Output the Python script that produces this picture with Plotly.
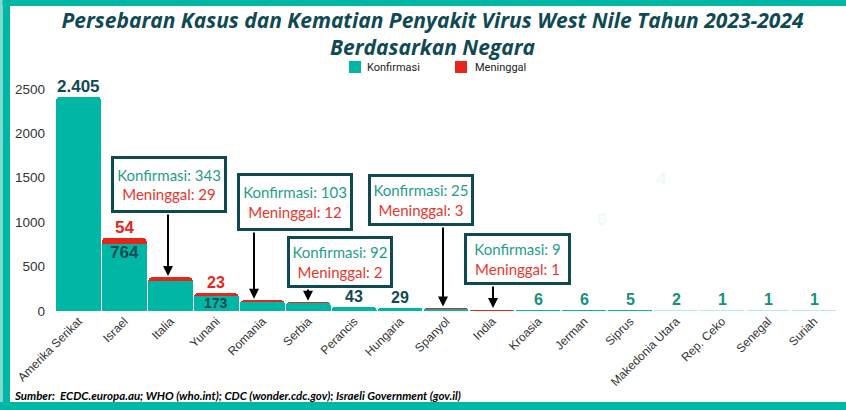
import plotly.graph_objects as go

# ---------------- data ----------------
countries = ["Amerika Serikat", "Israel", "Italia", "Yunani", "Romania", "Serbia",
             "Perancis", "Hungaria", "Spanyol", "India", "Kroasia", "Jerman",
             "Siprus", "Makedonia Utara", "Rep. Ceko", "Senegal", "Suriah"]
konfirmasi = [2405, 764, 343, 173, 103, 92, 43, 29, 25, 9, 6, 6, 5, 2, 1, 1, 1]
meninggal = [0, 54, 29, 23, 12, 2, 0, 0, 3, 1, 0, 0, 0, 0, 0, 0, 0]
y_ticks = [0, 500, 1000, 1500, 2000, 2500]
series_names = ["Konfirmasi", "Meninggal"]

title_text = ("Persebaran Kasus dan Kematian Penyakit Virus West Nile Tahun 2023-2024"
              "<br>Berdasarkan Negara")
source_text = ("Sumber:  ECDC.europa.au; WHO (who.int); CDC (wonder.cdc.gov); "
               "Israeli Government (gov.il)")

# which categories get which kind of label
above_dark = ["Amerika Serikat", "Perancis", "Hungaria"]
above_green = ["Kroasia", "Jerman", "Siprus", "Makedonia Utara", "Rep. Ceko", "Senegal", "Suriah"]
inside_lbl = ["Israel", "Yunani"]
callouts = ["Italia", "Romania", "Serbia", "Spanyol", "India"]
light_bars = ["Makedonia Utara", "Rep. Ceko", "Senegal", "Suriah"]

# ---------------- style ----------------
TEAL = "#00b7a6"
TEAL_LIGHT = "#b3ebe5"
RED = "#e8251b"
NAVY = "#0f4a53"
GREEN = "#13907a"
BOX_GREEN = "#1f9e89"
BOX_RED = "#e8362d"

W, H = 846, 410
PL, PR, PT, PB = 55, 837, 71, 311
YMAX = 2700


def fx(p):
    return (p - PL) / (PR - PL)


def fy(p):
    return (PB - p) / (PB - PT)


def ypx(v):
    return PB - v * (PB - PT) / YMAX


bar_colors = [TEAL_LIGHT if c in light_bars else TEAL for c in countries]
red_lines = [RED if m > 0 else "rgba(0,0,0,0)" for m in meninggal]

fig = go.Figure()
fig.add_trace(go.Bar(
    x=countries, y=konfirmasi, name=series_names[0],
    marker=dict(color=bar_colors, line=dict(color=bar_colors, width=1.2)),
    hoverinfo="x+y",
))
fig.add_trace(go.Bar(
    x=countries, y=meninggal, name=series_names[1],
    marker=dict(color=RED, line=dict(color=red_lines, width=1)),
    hoverinfo="x+y",
))

annotations = []
shapes = []
num_font = "Liberation Sans"


def fmt(v):
    return f"{v:,}".replace(",", ".")


for i, c in enumerate(countries):
    total = konfirmasi[i] + meninggal[i]
    if c in above_dark or c in above_green:
        big = c == "Amerika Serikat"
        annotations.append(dict(
            x=c, y=total, xref="x", yref="y", text=fmt(konfirmasi[i]), showarrow=False,
            yanchor="middle", yshift=11,
            font=dict(family=num_font, size=17 if big else 16,
                      color=NAVY if c in above_dark else GREEN, weight="bold"),
        ))
    if c in inside_lbl:
        annotations.append(dict(
            x=c, y=total, xref="x", yref="y", text=str(meninggal[i]), showarrow=False,
            yanchor="middle", yshift=11,
            font=dict(family=num_font, size=17 if c == "Israel" else 16, color=RED, weight="bold"),
        ))
        annotations.append(dict(
            x=c, y=konfirmasi[i], xref="x", yref="y", text=str(konfirmasi[i]), showarrow=False,
            yanchor="middle", yshift=-9 if c == "Israel" else -7,
            font=dict(family=num_font, size=17 if c == "Israel" else 14, color=NAVY, weight="bold"),
        ))

# call-out boxes: centre (px), size (px), arrow x (px)
box_geom = {
    "Italia": (169, 184.5, 110, 51, 168),
    "Romania": (295, 202, 110, 52, 254),
    "Serbia": (340, 262, 100, 46, 308),
    "Spanyol": (421, 200, 100, 46, 443),
    "India": (517.5, 259, 101, 46, 493),
}
for c in callouts:
    i = countries.index(c)
    cx, cy, bw, bh, ax_ = box_geom[c]
    txt = (f"<span style='color:{BOX_GREEN}'>Konfirmasi: {konfirmasi[i]}</span><br>"
           f"<span style='color:{BOX_RED}'>Meninggal: {meninggal[i]}</span>")
    annotations.append(dict(
        x=fx(cx), y=fy(cy), xref="paper", yref="paper", text=txt, showarrow=False,
        xanchor="center", yanchor="middle", width=bw, height=bh,
        bgcolor="white", bordercolor=NAVY, borderwidth=3, borderpad=0,
        font=dict(family="Lato", size=15), align="center",
    ))
    total = konfirmasi[i] + meninggal[i]
    box_bottom = cy + bh / 2 + 3
    annotations.append(dict(
        x=fx(ax_), y=total, xref="paper", yref="y", text="", showarrow=True,
        ax=0, ay=box_bottom - ypx(total), axref="pixel", ayref="pixel",
        arrowhead=2, arrowsize=1, arrowwidth=2, arrowcolor="black", standoff=2,
    ))

# faint leftover labels in the background
annotations.append(dict(x=fx(669), y=fy(178), xref="paper", yref="paper", text="4",
                        showarrow=False, font=dict(family=num_font, size=17, color="#eefaf9", weight="bold")))
annotations.append(dict(x=fx(608), y=fy(231), xref="paper", yref="paper", text="6",
                        showarrow=False, font=dict(family=num_font, size=17, color="#eefaf9", weight="bold")))

# legend (drawn compactly to match the reference spacing)
legend_items = [(series_names[0], TEAL, 349, 365), (series_names[1], RED, 455, 473)]
for name, col, sq_x, tx_x in legend_items:
    shapes.append(dict(type="rect", xref="paper", yref="paper",
                       x0=fx(sq_x), x1=fx(sq_x + 12), y0=fy(61), y1=fy(73),
                       fillcolor=col, line_width=0, layer="above"))
    annotations.append(dict(x=fx(tx_x), y=fy(67), xref="paper", yref="paper", text=name,
                            showarrow=False, xanchor="left", yanchor="middle",
                            font=dict(family="Roboto", size=11, color="#222")))

# source
annotations.append(dict(
    x=fx(12), y=fy(395), xref="paper", yref="paper", text=source_text, showarrow=False,
    xanchor="left", yanchor="middle",
    font=dict(family="Lato", size=11.5, color="black", style="italic", weight="bold"),
))

shapes += [
    dict(type="rect", xref="paper", yref="paper", x0=fx(0), x1=fx(W), y0=fy(0), y1=fy(6),
         fillcolor=TEAL, line_width=0, layer="above"),
    dict(type="rect", xref="paper", yref="paper", x0=fx(2.5), x1=fx(10), y0=fy(0), y1=fy(H),
         fillcolor=TEAL, line_width=0, layer="above"),
    dict(type="rect", xref="paper", yref="paper", x0=fx(0), x1=fx(2.5), y0=fy(0), y1=fy(H),
         fillcolor="#7fd9cf", line_width=0, layer="above"),
    dict(type="rect", xref="paper", yref="paper", x0=fx(0), x1=fx(W), y0=fy(402), y1=fy(H),
         fillcolor=TEAL, line_width=0, layer="above"),
]

fig.update_layout(
    width=W, height=H,
    margin=dict(l=PL, r=W - PR, t=PT, b=H - PB, autoexpand=False),
    paper_bgcolor="white", plot_bgcolor="white",
    barmode="stack", bargap=0.06, barcornerradius=3,
    title=dict(text=title_text, x=432.5 / W, xanchor="center", xref="container",
               y=1 - 28 / H, yanchor="top", yref="container",
               font=dict(family="Open Sans", size=21, color=NAVY, style="italic", weight="bold")),
    showlegend=False,
    xaxis=dict(tickangle=-45, tickfont=dict(family="Liberation Sans", size=12, color="#333"),
               showgrid=False, showline=False, ticks="", automargin=False),
    yaxis=dict(range=[0, YMAX], tickvals=y_ticks, showgrid=False, zeroline=False,
               tickfont=dict(family="Liberation Sans", size=13.5, color="#333"),
               ticks="", ticklabelstandoff=9, automargin=False),
    annotations=annotations,
    shapes=shapes,
)

fig.write_html("out.html", config={"displayModeBar": False},
               post_script="document.body.style.margin='0';document.body.style.overflow='hidden';")
